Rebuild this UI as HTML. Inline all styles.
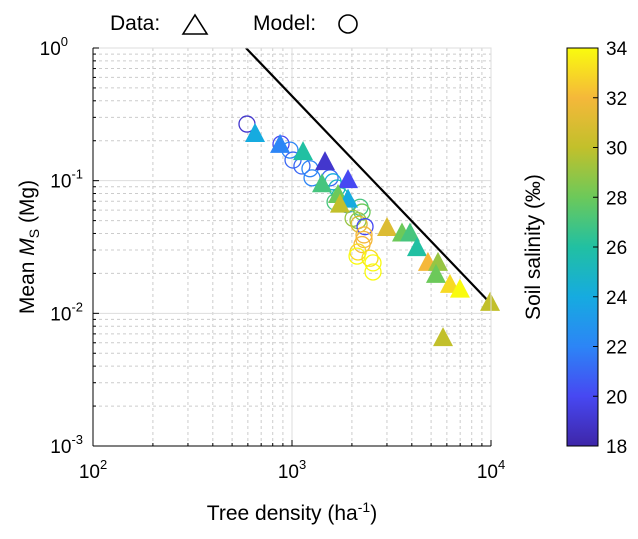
<!DOCTYPE html>
<html><head><meta charset="utf-8"><style>
body{margin:0;background:#fff;font-family:"Liberation Sans",Arial,sans-serif;}
</style></head><body>
<svg id="chart" width="638" height="534" xmlns="http://www.w3.org/2000/svg" font-family="Liberation Sans, Arial, sans-serif">
<defs>
<linearGradient id="parula" x1="0" y1="1" x2="0" y2="0">
<stop offset="0" stop-color="#3e26a8"/><stop offset="0.125" stop-color="#4748f2"/>
<stop offset="0.25" stop-color="#2c85f6"/><stop offset="0.375" stop-color="#16abe0"/>
<stop offset="0.5" stop-color="#21c0a2"/><stop offset="0.625" stop-color="#6cc95a"/>
<stop offset="0.75" stop-color="#c2c02b"/><stop offset="0.875" stop-color="#f5b83a"/>
<stop offset="1" stop-color="#f9fb0e"/>
</linearGradient>
</defs>
<g id="grid"></g>
<g id="marks"></g>
<g id="axes"></g>
<g>
<text x="110" y="30" font-size="21">Data:</text>
<polygon points="183,34 195,15 207,34" fill="none" stroke="#000" stroke-width="1.6"/>
<text x="253" y="30" font-size="21">Model:</text>
<circle cx="348" cy="24" r="9" fill="none" stroke="#000" stroke-width="1.6"/>
</g>
<text x="292" y="520" font-size="21" text-anchor="middle">Tree density (ha<tspan dy="-8" font-size="14">-1</tspan><tspan dy="8">)</tspan></text>
<text transform="translate(34,247) rotate(-90)" font-size="21" text-anchor="middle">Mean <tspan font-style="italic">M</tspan><tspan dy="5" font-size="14">S</tspan><tspan dy="-5"> (Mg)</tspan></text>
<rect x="567" y="48" width="31" height="398" fill="url(#parula)" stroke="#000" stroke-width="1"/>
<g id="cbticks"></g>
<text transform="translate(540,247) rotate(-90)" font-size="21" text-anchor="middle">Soil salinity (‰)</text>
</svg>
<script>
const triDensity=[652,871,1136,1465,1912,1415,1703,1912,1742,3002,3570,3917,4246,4820,5415,5290,6220,6980,9890,5740];
const triMass=[0.225,0.186,0.164,0.138,0.101,0.094,0.078,0.072,0.066,0.044,0.040,0.040,0.031,0.024,0.024,0.0195,0.0164,0.0151,0.012,0.0065];
const triSalinity=[24,22,26,19,20,27,28,24,30,31,28,27,26,32,29,28,33,34,30,30];
const circDensity=[594,881,977,1012,1122,1231,1261,1553,1608,1683,1742,1646,1889,2197,2249,2028,2147,2173,2328,2301,2301,2249,2147,2466,2553,2553,2123];
const circMass=[0.267,0.189,0.170,0.143,0.129,0.123,0.105,0.105,0.098,0.088,0.077,0.069,0.066,0.063,0.058,0.052,0.050,0.047,0.045,0.039,0.036,0.033,0.029,0.026,0.024,0.0205,0.027];
const circSalinity=[19,20,22,21,21,22,22,21,24,25,26,27,23,27,28,29,29,31,20,32,32,32,33,33,34,34,34];
const lineDensity=[587,9890];
const lineMass=[1,0.012];
const xTicks=[100,1000,10000];
const yTicks=[1,0.1,0.01,0.001];
const cbTicks=[18,20,22,24,26,28,30,32,34];

const X0=93,X1=491,Y0=48,Y1=446;
const xs=d=>X0+(Math.log10(d)-2)/2*(X1-X0);
const ys=m=>Y0+(-Math.log10(m))/3*(Y1-Y0);
const stops=[[0,[62,38,168]],[.125,[71,72,242]],[.25,[44,133,246]],[.375,[22,171,224]],[.5,[33,192,162]],[.625,[108,201,90]],[.75,[194,192,43]],[.875,[245,184,58]],[1,[249,251,14]]];
function col(s){let t=(s-18)/16;t=Math.max(0,Math.min(1,t));
for(let i=0;i<stops.length-1;i++){const a=stops[i],b=stops[i+1];if(t<=b[0]){const f=(t-a[0])/(b[0]-a[0]);
return 'rgb('+a[1].map((v,k)=>Math.round(v+(b[1][k]-v)*f)).join(',')+')';}}return 'rgb(249,251,14)';}
const NS='http://www.w3.org/2000/svg';
function mk(tag,attrs,parent){const e=document.createElementNS(NS,tag);for(const k in attrs)e.setAttribute(k,attrs[k]);parent.appendChild(e);return e;}
const grid=document.getElementById('grid'),marks=document.getElementById('marks'),axes=document.getElementById('axes'),cbt=document.getElementById('cbticks');
// grid
for(let dec=2;dec<4;dec++)for(let k=2;k<=9;k++){const x=xs(k*Math.pow(10,dec));
const l=mk('line',{x1:x,x2:x,y1:Y0,y2:Y1,stroke:'#ccc','stroke-dasharray':'3,3','stroke-width':1},grid);

}
for(let dec=-3;dec<0;dec++)for(let k=2;k<=9;k++){const y=ys(k*Math.pow(10,dec));
const l=mk('line',{x1:X0,x2:X1,y1:y,y2:y,stroke:'#ccc','stroke-dasharray':'3,3','stroke-width':1},grid);

}
xTicks.forEach(v=>{const x=xs(v);const l=mk('line',{x1:x,x2:x,y1:Y0,y2:Y1,stroke:'#ddd'},grid);

});
yTicks.forEach(v=>{const y=ys(v);const l=mk('line',{x1:X0,x2:X1,y1:y,y2:y,stroke:'#ddd'},grid);

});
// marks
circDensity.forEach((d,i)=>{const c=mk('circle',{cx:xs(d),cy:ys(circMass[i]),r:8,fill:'none',stroke:col(circSalinity[i]),'stroke-width':1.3},marks);

});
const ln=mk('line',{x1:xs(lineDensity[0]),y1:ys(lineMass[0]),x2:xs(lineDensity[1]),y2:ys(lineMass[1]),stroke:'#000','stroke-width':2.2},marks);


triDensity.forEach((d,i)=>{const x=xs(d),y=ys(triMass[i]);
const p=mk('polygon',{points:`${x-10},${y+8} ${x},${y-11} ${x+10},${y+8}`,fill:col(triSalinity[i])},marks);

});
// axes
const fr=mk('rect',{x:X0,y:Y0,width:X1-X0,height:Y1-Y0,fill:'none',stroke:'#ddd'},axes);


const xa=mk('line',{x1:X0,x2:X1,y1:Y1,y2:Y1,stroke:'#000'},axes);


const ya=mk('line',{x1:X0,x2:X0,y1:Y0,y2:Y1,stroke:'#000'},axes);


for(let dec=2;dec<4;dec++)for(let k=2;k<=9;k++){const x=xs(k*Math.pow(10,dec));mk('line',{x1:x,x2:x,y1:Y1,y2:Y1-3,stroke:'#000'},axes);}
for(let dec=-3;dec<0;dec++)for(let k=2;k<=9;k++){const y=ys(k*Math.pow(10,dec));mk('line',{x1:X0,x2:X0+3,y1:y,y2:y,stroke:'#000'},axes);}
xTicks.forEach(v=>{const x=xs(v);mk('line',{x1:x,x2:x,y1:Y1,y2:Y1-6,stroke:'#000'},axes);
const t=mk('text',{x:x,y:Y1+32,'font-size':19,'text-anchor':'middle'},axes);


t.innerHTML='10<tspan dy="-9" font-size="13">'+Math.round(Math.log10(v))+'</tspan>';});
yTicks.forEach(v=>{const y=ys(v);mk('line',{x1:X0,x2:X0+6,y1:y,y2:y,stroke:'#000'},axes);
const t=mk('text',{x:X0-25,y:y+7,'font-size':19,'text-anchor':'end'},axes);


t.innerHTML='10<tspan dy="-9" font-size="13">'+Math.round(Math.log10(v))+'</tspan>';
const e=Math.round(Math.log10(v));if(e<0){t.setAttribute('x',X0-10);}});
cbTicks.forEach(v=>{const y=446-(v-18)/16*398;
mk('line',{x1:593,x2:598,y1:y,y2:y,stroke:'#000'},cbt);
const t=mk('text',{x:606,y:y+7,'font-size':19},cbt);


t.textContent=v;});
</script>
</body></html>
